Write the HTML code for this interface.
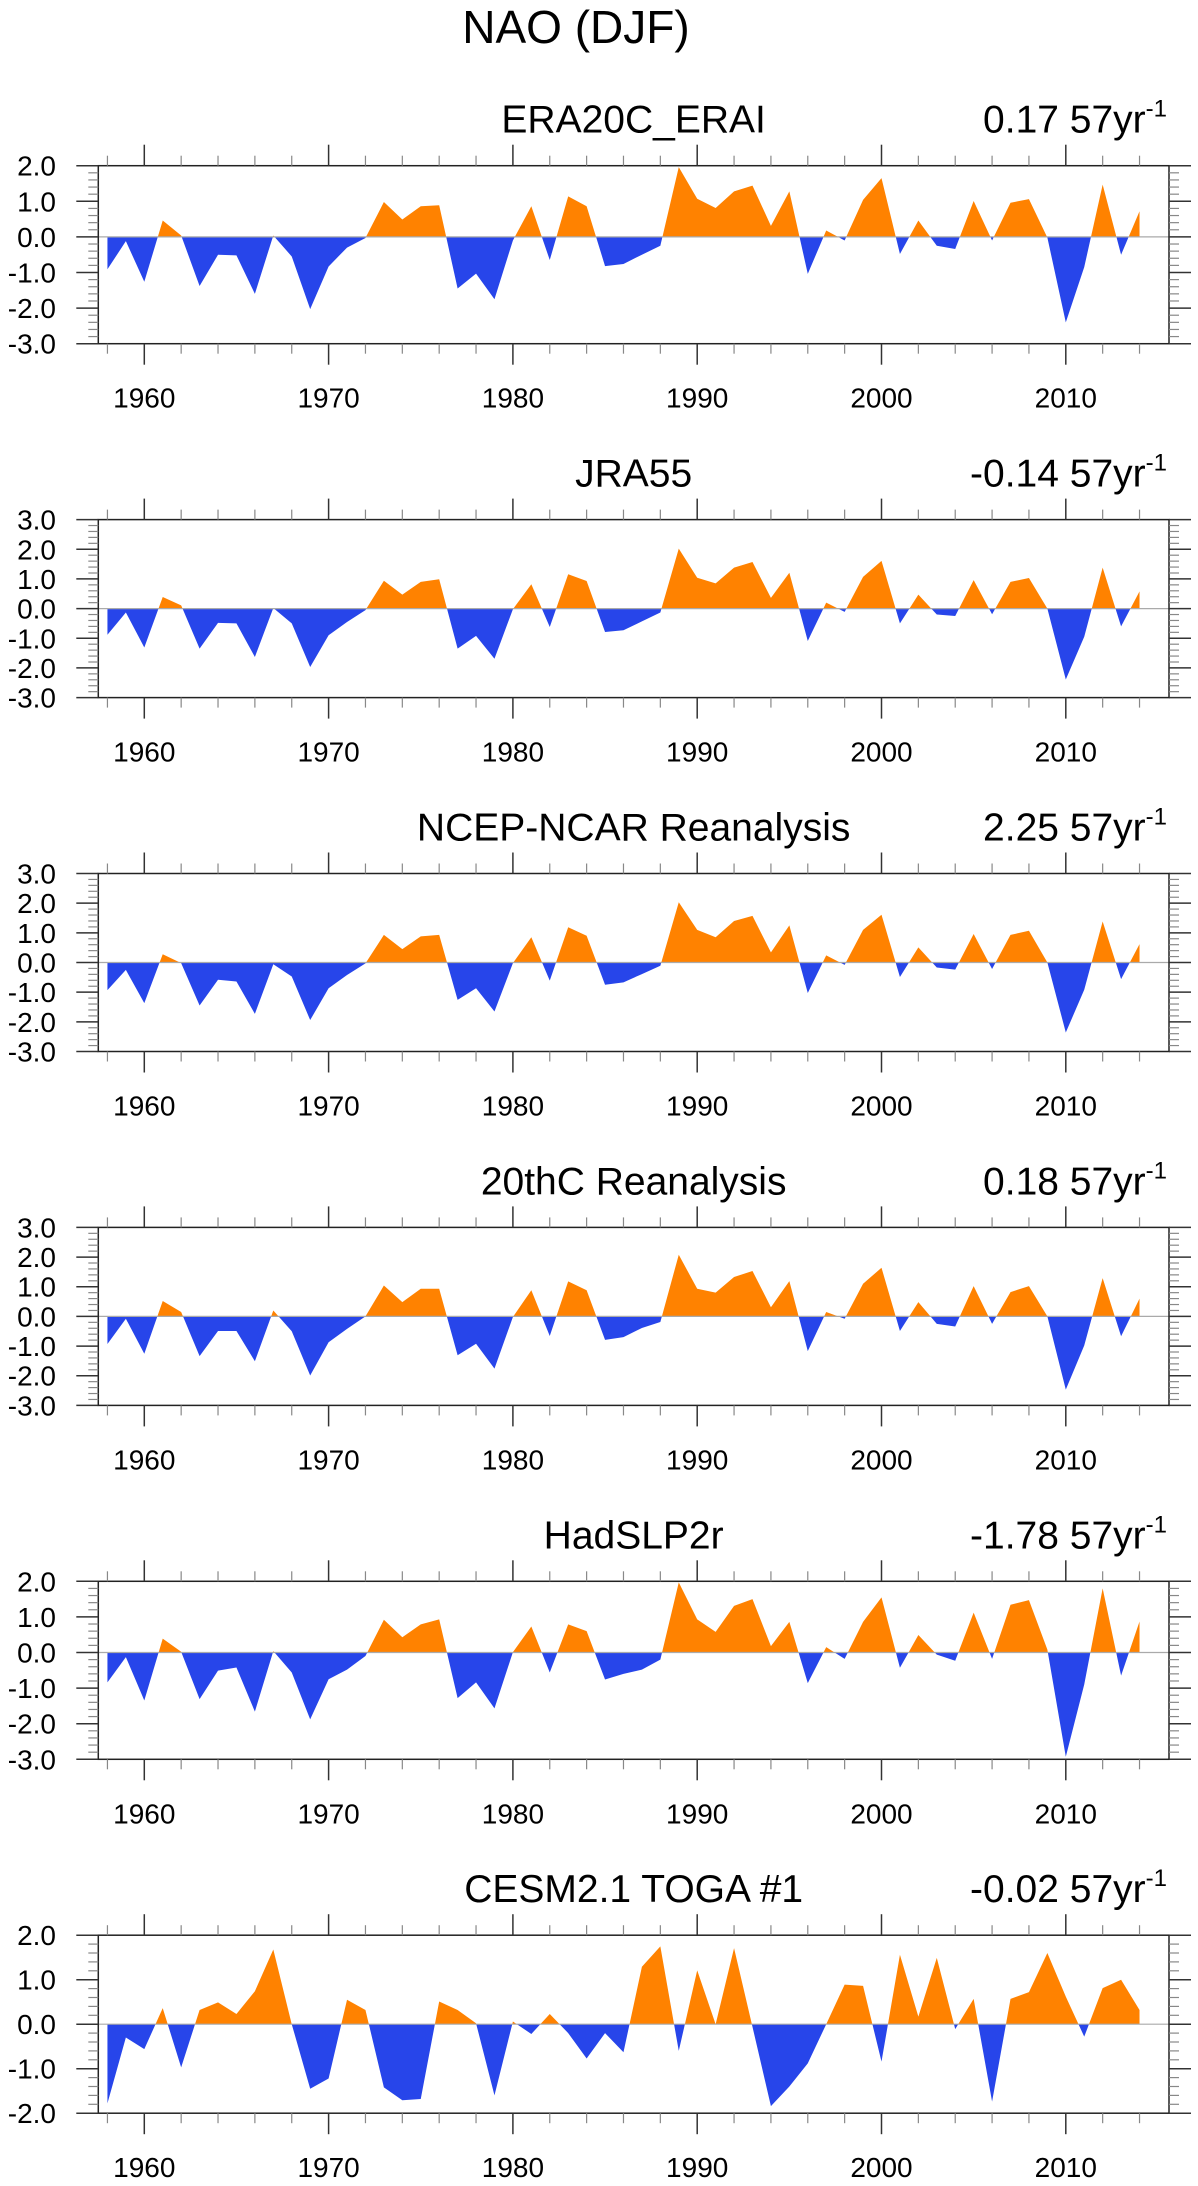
<!DOCTYPE html>
<html>
<head>
<meta charset="utf-8">
<style>
  html,body{margin:0;padding:0;background:#fff;}
  body{width:1198px;height:2186px;overflow:hidden;}
  svg{display:block;font-family:"Liberation Sans",Arial,sans-serif;}
</style>
</head>
<body>
<svg id="chart" width="1198" height="2186" viewBox="0 0 1198 2186" xmlns="http://www.w3.org/2000/svg">
  <text x="576" y="43" font-size="46" text-anchor="middle" fill="#000">NAO (DJF)</text>
</svg>
<script>
const years = [];
for (let y = 1958; y <= 2014; y++) years.push(y);

const panelTitles = ["ERA20C_ERAI","JRA55","NCEP-NCAR Reanalysis","20thC Reanalysis","HadSLP2r","CESM2.1 TOGA #1"];
const trendValues = ["0.17","-0.14","2.25","0.18","-1.78","-0.02"];
const yMaxes = [2,3,3,3,2,2];
const yMins = [-3,-3,-3,-3,-3,-2];
const xTickLabels = [1960,1970,1980,1990,2000,2010];

const seriesEra20c = [-0.91,-0.12,-1.26,0.46,0.04,-1.38,-0.5,-0.52,-1.6,0.04,-0.55,-2.03,-0.83,-0.3,-0.03,0.98,0.49,0.86,0.89,-1.45,-1.03,-1.75,-0.1,0.86,-0.65,1.14,0.86,-0.82,-0.76,-0.5,-0.25,1.96,1.07,0.81,1.28,1.44,0.31,1.28,-1.04,0.18,-0.1,1.04,1.65,-0.48,0.46,-0.25,-0.34,1.01,-0.1,0.96,1.06,-0.02,-2.4,-0.85,1.47,-0.5,0.72];
const seriesJra55 = [-0.88,-0.13,-1.31,0.39,0.11,-1.35,-0.48,-0.5,-1.63,0.02,-0.5,-1.97,-0.9,-0.45,-0.05,0.94,0.47,0.9,0.99,-1.35,-0.92,-1.69,-0.02,0.82,-0.62,1.16,0.93,-0.79,-0.73,-0.43,-0.13,2.02,1.04,0.85,1.38,1.57,0.36,1.21,-1.09,0.2,-0.11,1.07,1.61,-0.5,0.47,-0.2,-0.25,0.96,-0.19,0.9,1.03,0,-2.39,-0.95,1.38,-0.6,0.58];
const seriesNcep = [-0.93,-0.25,-1.37,0.28,-0.02,-1.45,-0.58,-0.64,-1.73,-0.06,-0.47,-1.94,-0.87,-0.42,-0.03,0.93,0.45,0.88,0.93,-1.26,-0.87,-1.65,-0.02,0.85,-0.61,1.19,0.9,-0.75,-0.67,-0.39,-0.11,2.03,1.1,0.85,1.4,1.57,0.34,1.25,-1.03,0.24,-0.08,1.1,1.61,-0.49,0.51,-0.17,-0.24,0.96,-0.22,0.93,1.07,0,-2.36,-0.92,1.38,-0.56,0.62];
const series20thc = [-0.93,-0.08,-1.26,0.52,0.15,-1.34,-0.49,-0.49,-1.51,0.2,-0.5,-1.99,-0.87,-0.42,0,1.04,0.48,0.93,0.93,-1.31,-0.92,-1.76,-0.02,0.88,-0.66,1.18,0.88,-0.79,-0.7,-0.39,-0.19,2.08,0.93,0.8,1.33,1.53,0.31,1.19,-1.17,0.15,-0.08,1.1,1.64,-0.49,0.48,-0.25,-0.34,1.02,-0.25,0.82,1.02,0,-2.47,-0.98,1.29,-0.67,0.6];
const seriesHadslp = [-0.84,-0.13,-1.35,0.39,0.02,-1.31,-0.51,-0.42,-1.66,0.04,-0.56,-1.88,-0.75,-0.48,-0.1,0.92,0.43,0.79,0.93,-1.28,-0.84,-1.57,0.01,0.73,-0.56,0.79,0.6,-0.76,-0.6,-0.48,-0.2,1.97,0.93,0.58,1.31,1.5,0.18,0.86,-0.86,0.15,-0.18,0.86,1.55,-0.43,0.49,-0.06,-0.23,1.12,-0.18,1.34,1.47,0.08,-2.93,-0.9,1.8,-0.65,0.87];
const seriesCesm = [-1.78,-0.3,-0.56,0.36,-0.97,0.32,0.49,0.23,0.74,1.68,0,-1.45,-1.22,0.55,0.32,-1.42,-1.71,-1.68,0.51,0.32,0.02,-1.6,0.06,-0.22,0.23,-0.2,-0.77,-0.2,-0.63,1.29,1.75,-0.6,1.21,0,1.71,-0.06,-1.84,-1.4,-0.88,0,0.89,0.86,-0.84,1.56,0.17,1.49,-0.11,0.57,-1.74,0.57,0.72,1.6,0.62,-0.28,0.81,1.0,0.32];
const allSeries = [seriesEra20c,seriesJra55,seriesNcep,series20thc,seriesHadslp,seriesCesm];

const NS = "http://www.w3.org/2000/svg";
const svg = document.getElementById("chart");
const PL = 98.3, PR = 1169, PH = 178, TOP0 = 165.7, GAP = 353.9;
const ORANGE = "#ff8200", BLUE = "#2745ea";

function mk(tag, attrs, parent) {
  const e = document.createElementNS(NS, tag);
  for (const k in attrs) e.setAttribute(k, attrs[k]);
  (parent || svg).appendChild(e);
  return e;
}
function xScale(yr) { return 144.3 + (yr - 1960) * 18.43; }

allSeries.forEach((vals, p) => {
  const top = TOP0 + p * GAP, bot = top + PH;
  const ymax = yMaxes[p], ymin = yMins[p];
  const yScale = v => top + (ymax - v) / (ymax - ymin) * PH;
  const g = mk("g", {});
  
  

  const title = mk("text", {x: (PL + PR) / 2, y: top - 33, "font-size": 39, "text-anchor": "middle", fill: "#000"}, g);
  
  
  title.textContent = panelTitles[p];

  const tr = mk("text", {x: PR - 2, y: top - 33, "font-size": 39, "text-anchor": "end", fill: "#000"}, g);
  
  
  const t1 = mk("tspan", {}, tr); t1.textContent = trendValues[p] + " 57yr";
  const t2 = mk("tspan", {dy: -16, "font-size": 24}, tr); t2.textContent = "-1";

  // fill
  const y0 = yScale(0);
  let d = "M" + xScale(years[0]) + "," + y0;
  vals.forEach((v, i) => { d += " L" + xScale(years[i]).toFixed(2) + "," + yScale(v).toFixed(2); });
  d += " L" + xScale(years[years.length - 1]) + "," + y0 + " Z";
  const cidA = "ca" + p, cidB = "cb" + p;
  const defs = mk("defs", {}, g);
  const ca = mk("clipPath", {id: cidA}, defs);
  mk("rect", {x: PL, y: top, width: PR - PL, height: y0 - top}, ca);
  const cb = mk("clipPath", {id: cidB}, defs);
  mk("rect", {x: PL, y: y0, width: PR - PL, height: bot - y0}, cb);
  const pa = mk("path", {d: d, fill: ORANGE, "clip-path": "url(#" + cidA + ")"}, g);
  
  
  const pb = mk("path", {d: d, fill: BLUE, "clip-path": "url(#" + cidB + ")"}, g);
  
  
  const zl = mk("line", {x1: PL, x2: PR, y1: y0, y2: y0, stroke: "#aaa", "stroke-width": 1.2}, g);
  
  

  // frame
  const fr = mk("rect", {x: PL, y: top, width: PR - PL, height: PH, fill: "none", stroke: "#222", "stroke-width": 1.5}, g);
  
  

  // y ticks
  const nMinor = Math.round((ymax - ymin) * 5);
  for (let k = 0; k <= nMinor; k++) {
    const v = ymax - k * 0.2;
    const yy = yScale(v);
    const major = k % 5 === 0;
    const len = major ? 22 : 10;
    mk("line", {x1: PL - len, x2: PL, y1: yy, y2: yy, stroke: major ? "#333" : "#888", "stroke-width": major ? 1.5 : 1.2}, g);
    mk("line", {x1: PR, x2: PR + len, y1: yy, y2: yy, stroke: major ? "#333" : "#888", "stroke-width": major ? 1.5 : 1.2}, g);
    if (major) {
      const lb = mk("text", {x: 56, y: yy + 10, "font-size": 28, "text-anchor": "end", fill: "#000"}, g);
      
      
      lb.textContent = v.toFixed(1);
    }
  }
  // x ticks
  for (let yr = 1958; yr <= 2014; yr += 2) {
    const xx = xScale(yr);
    const major = yr % 10 === 0;
    const len = major ? 21 : 10;
    mk("line", {x1: xx, x2: xx, y1: top - len, y2: top, stroke: major ? "#333" : "#888", "stroke-width": major ? 1.5 : 1.2}, g);
    mk("line", {x1: xx, x2: xx, y1: bot, y2: bot + len, stroke: major ? "#333" : "#888", "stroke-width": major ? 1.5 : 1.2}, g);
  }
  xTickLabels.forEach(lbv => {
    const lb = mk("text", {x: xScale(lbv), y: bot + 64, "font-size": 28, "text-anchor": "middle", fill: "#000"}, g);
    
    
    lb.textContent = lbv;
  });
});
</script>
</body>
</html>
